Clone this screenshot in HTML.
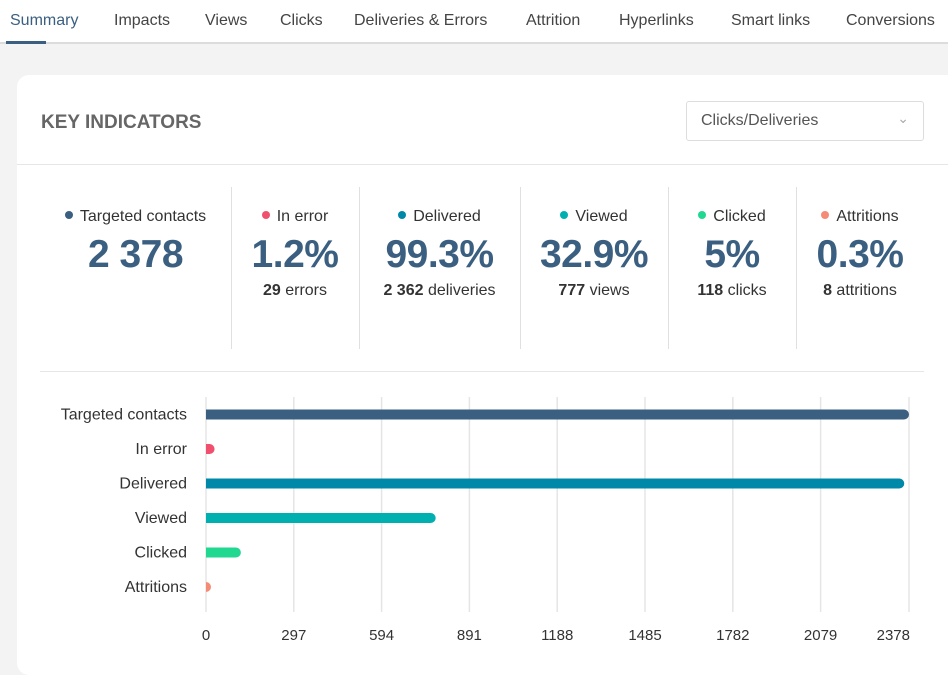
<!DOCTYPE html>
<html><head><meta charset="utf-8"><style>
*{margin:0;padding:0;box-sizing:border-box}
body{width:948px;height:654px;overflow:hidden;background:#f3f3f3;font-family:"Liberation Sans",sans-serif;color:#333;position:relative}
.tabs{position:absolute;left:0;top:0;width:948px;height:44px;background:#fff;border-bottom:2px solid #dcdcdc}
.tab{position:absolute;top:12px;font-size:16px;color:#444;white-space:nowrap}
.active{position:absolute;left:6px;top:41px;width:40px;height:3px;background:#3a5f80}
.card{position:absolute;left:17px;top:75px;width:945px;height:600px;background:#fff;border-radius:12px}
.title{position:absolute;left:41px;top:112px;font-size:19px;font-weight:bold;color:#666}
.sel{position:absolute;left:686px;top:101px;width:238px;height:40px;border:1px solid #ddd;border-radius:3px;font-size:16px;color:#555;padding:10px 14px}
.hline{position:absolute;background:#e6e6e6;height:1px}
.vline{position:absolute;background:#e0e0e0;width:1px;top:187px;height:162px}
.kpi{position:absolute;top:207px;text-align:center}
.kpi .l{font-size:16px;color:#333;white-space:nowrap;line-height:19px}
.kpi .d{display:inline-block;width:8px;height:8px;border-radius:50%;margin-right:7px;vertical-align:2px}
.kpi .v{font-size:39px;color:#3a5f80;font-weight:bold;line-height:46px;margin-top:6px;letter-spacing:-.5px}
.kpi .s{font-size:16px;color:#333;margin-top:3px;white-space:nowrap;line-height:19px}
.kpi .s b{font-weight:bold}
</style></head><body>
<div class="tabs">
<span class="tab" style="left:10px;color:#3a5f80">Summary</span>
<span class="tab" style="left:114px">Impacts</span>
<span class="tab" style="left:205px">Views</span>
<span class="tab" style="left:280px">Clicks</span>
<span class="tab" style="left:354px">Deliveries &amp; Errors</span>
<span class="tab" style="left:526px">Attrition</span>
<span class="tab" style="left:619px">Hyperlinks</span>
<span class="tab" style="left:731px">Smart links</span>
<span class="tab" style="left:846px">Conversions</span>
<div class="active"></div>
</div>
<div class="card"></div>
<div class="title">KEY INDICATORS</div>
<div class="sel">Clicks/Deliveries<span style="position:absolute;right:14px;top:8px;color:#aaa;font-size:14px">&#8964;</span></div>
<div class="hline" style="left:17px;top:164px;width:931px"></div>
<div class="hline" style="left:40px;top:371px;width:884px"></div>
<div class="vline" style="left:231px"></div><div class="vline" style="left:359px"></div><div class="vline" style="left:520px"></div><div class="vline" style="left:668px"></div><div class="vline" style="left:796px"></div>

<div class="kpi" style="left:40px;width:191px"><div class="l"><span class="d" style="background:#3a5f80"></span>Targeted contacts</div><div class="v">2 378</div></div>
<div class="kpi" style="left:231px;width:128px"><div class="l"><span class="d" style="background:#f0506e"></span>In error</div><div class="v">1.2%</div><div class="s"><b>29</b> errors</div></div>
<div class="kpi" style="left:359px;width:161px"><div class="l"><span class="d" style="background:#0088a8"></span>Delivered</div><div class="v">99.3%</div><div class="s"><b>2 362</b> deliveries</div></div>
<div class="kpi" style="left:520px;width:148px"><div class="l"><span class="d" style="background:#00b0b0"></span>Viewed</div><div class="v">32.9%</div><div class="s"><b>777</b> views</div></div>
<div class="kpi" style="left:668px;width:128px"><div class="l"><span class="d" style="background:#20d890"></span>Clicked</div><div class="v">5%</div><div class="s"><b>118</b> clicks</div></div>
<div class="kpi" style="left:796px;width:128px"><div class="l"><span class="d" style="background:#f58b77"></span>Attritions</div><div class="v">0.3%</div><div class="s"><b>8</b> attritions</div></div>

<svg id="chart" width="948" height="654" style="position:absolute;left:0;top:0"></svg>
<script>
const categories=["Targeted contacts","In error","Delivered","Viewed","Clicked","Attritions"];
const values=[2378,29,2362,777,118,8];
const colors=["#3a5f80","#f0506e","#0088a8","#00b0b0","#20d890","#f58b77"];
const ticks=[0,297,594,891,1188,1485,1782,2079,2378];
const svg=document.getElementById('chart');
const NS="http://www.w3.org/2000/svg";
const x0=206,x1=909,maxV=2378;
const xs=v=>x0+(v/maxV)*(x1-x0);
const yTop=397,rowH=34.5,firstY=414.5;
const ys=i=>firstY+i*rowH;
ticks.forEach((t,i)=>{
 const l=document.createElementNS(NS,'line');
 l.setAttribute('x1',xs(t));l.setAttribute('x2',xs(t));l.setAttribute('y1',yTop);l.setAttribute('y2',612);
 l.setAttribute('stroke','#e5e5e5');l.setAttribute('stroke-width','1.5');
 
 
 svg.appendChild(l);
 const tx=document.createElementNS(NS,'text');
 tx.setAttribute('x',xs(t));tx.setAttribute('y',640);tx.setAttribute('text-anchor',i==ticks.length-1?'end':'middle');
 if(i==ticks.length-1)tx.setAttribute('x',xs(t)+1);
 tx.setAttribute('font-size','15');tx.setAttribute('fill','#333');tx.setAttribute('font-family','Liberation Sans, sans-serif');
 tx.textContent=t;
 
 
 svg.appendChild(tx);
});
categories.forEach((c,i)=>{
 const y=ys(i);
 const tx=document.createElementNS(NS,'text');
 tx.setAttribute('x',187);tx.setAttribute('y',y+5);tx.setAttribute('text-anchor','end');
 tx.setAttribute('font-size','16');tx.setAttribute('fill','#333');tx.setAttribute('font-family','Liberation Sans, sans-serif');
 tx.textContent=c;
 
 
 svg.appendChild(tx);
 const w=Math.max(xs(values[i])-x0,3);
 const p=document.createElementNS(NS,'path');
 const h=10,r=5,t=y-h/2;
 const wr=Math.max(w-r,0);
 p.setAttribute('d',`M${x0},${t} h${wr} a${r},${r} 0 0 1 0,${h} h${-wr} Z`);
 p.setAttribute('fill',colors[i]);
 
 
 svg.appendChild(p);
});
</script>
</body></html>
